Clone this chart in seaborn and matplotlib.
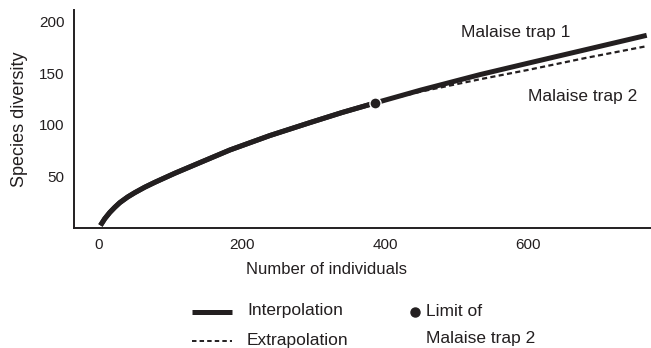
import matplotlib
matplotlib.use("Agg")
import matplotlib.pyplot as plt
from matplotlib.lines import Line2D
import seaborn as sns
import pandas as pd

# ---- data ----
trap1_x = [2, 8, 15, 22, 29, 40, 50, 64, 78, 106, 134, 183, 239, 295, 340, 386, 450, 533, 600, 680, 766]
trap1_y = [2.5, 9, 15, 20, 24.5, 30, 34.2, 39.5, 44.2, 53, 61.2, 75.5, 89.5, 102, 111.8, 121, 133.5, 148.5, 159.5, 172.5, 186.5]

trap2_interp_x = [2, 8, 15, 22, 29, 40, 50, 64, 78, 106, 134, 183, 239, 295, 340, 386]
trap2_interp_y = [2.5, 9, 15, 20, 24.5, 30, 34.2, 39.5, 44.2, 53, 61.2, 75.5, 89.5, 102, 111.8, 121]
trap2_extrap_x = [386, 450, 533, 600, 680, 766]
trap2_extrap_y = [121, 132, 144, 153, 164.5, 176]

limit_x = [386]
limit_y = [121]

x_ticks = [0, 200, 400, 600]
y_ticks = [50, 100, 150, 200]

ink = "#231f20"

sns.set_theme(style="white")
plt.rcParams["font.family"] = ["Liberation Sans", "DejaVu Sans"]

fig = plt.figure(figsize=(6.51, 3.48), dpi=100)
ax = fig.add_axes([74 / 651, 1 - 228 / 348, 1 - 74 / 651, (228 - 10) / 348])

df1 = pd.DataFrame({"x": trap1_x, "y": trap1_y})
df2i = pd.DataFrame({"x": trap2_interp_x, "y": trap2_interp_y})
df2e = pd.DataFrame({"x": trap2_extrap_x, "y": trap2_extrap_y})

sns.lineplot(data=df2e, x="x", y="y", ax=ax, color=ink, lw=1.6,
             linestyle=(0, (2.3, 1.5)), solid_capstyle="butt")
sns.lineplot(data=df1, x="x", y="y", ax=ax, color=ink, lw=3.6,
             solid_capstyle="butt", solid_joinstyle="round")
sns.lineplot(data=df2i, x="x", y="y", ax=ax, color=ink, lw=3.6,
             solid_capstyle="butt", solid_joinstyle="round")
ax.plot(limit_x, limit_y, "o", color=ink, ms=8, mec="white", mew=1.0, zorder=5)

ax.set_xlim(-35, 772)
ax.set_ylim(0, 211)
ax.set_xticks(x_ticks)
ax.set_yticks(y_ticks)
ax.tick_params(axis="both", length=0, labelsize=11, colors=ink)
ax.tick_params(axis="x", pad=7)
ax.tick_params(axis="y", pad=7)

for s in ["top", "right"]:
    ax.spines[s].set_visible(False)
for s in ["left", "bottom"]:
    ax.spines[s].set_color(ink)
    ax.spines[s].set_linewidth(1.4)

ax.set_xlabel("Number of individuals", fontsize=12, color=ink)
ax.xaxis.set_label_coords((326 - 74) / 577, -0.155)
ax.set_ylabel("Species diversity", fontsize=13, color=ink, labelpad=8)

ax.text(583, 189, "Malaise trap 1", fontsize=12.5, color=ink, ha="center", va="center")
ax.text(677, 127.5, "Malaise trap 2", fontsize=12.5, color=ink, ha="center", va="center")

# ---- legend (drawn below the axes) ----
W, H = 651, 348
def fx(px):
    return px / W
def fy(py):
    return 1 - py / H

fig.add_artist(Line2D([fx(192), fx(232)], [fy(312), fy(312)], color=ink, lw=3.6,
                      solid_capstyle="butt", transform=fig.transFigure))
fig.add_artist(Line2D([fx(192), fx(232)], [fy(341), fy(341)], color=ink, lw=1.4,
                      linestyle=(0, (2.3, 1.6)), transform=fig.transFigure))
fig.text(fx(247), fy(311), "Interpolation", fontsize=12.5, color=ink, va="center", ha="left")
fig.text(fx(247), fy(340), "Extrapolation", fontsize=12.5, color=ink, va="center", ha="left")
fig.add_artist(Line2D([fx(415)], [fy(312)], marker="o", color=ink, ms=6.5,
                      transform=fig.transFigure))
fig.text(fx(426), fy(311), "Limit of", fontsize=12.5, color=ink, va="center", ha="left")
fig.text(fx(426), fy(338), "Malaise trap 2", fontsize=12.5, color=ink, va="center", ha="left")

fig.savefig("out.png", dpi=100)
